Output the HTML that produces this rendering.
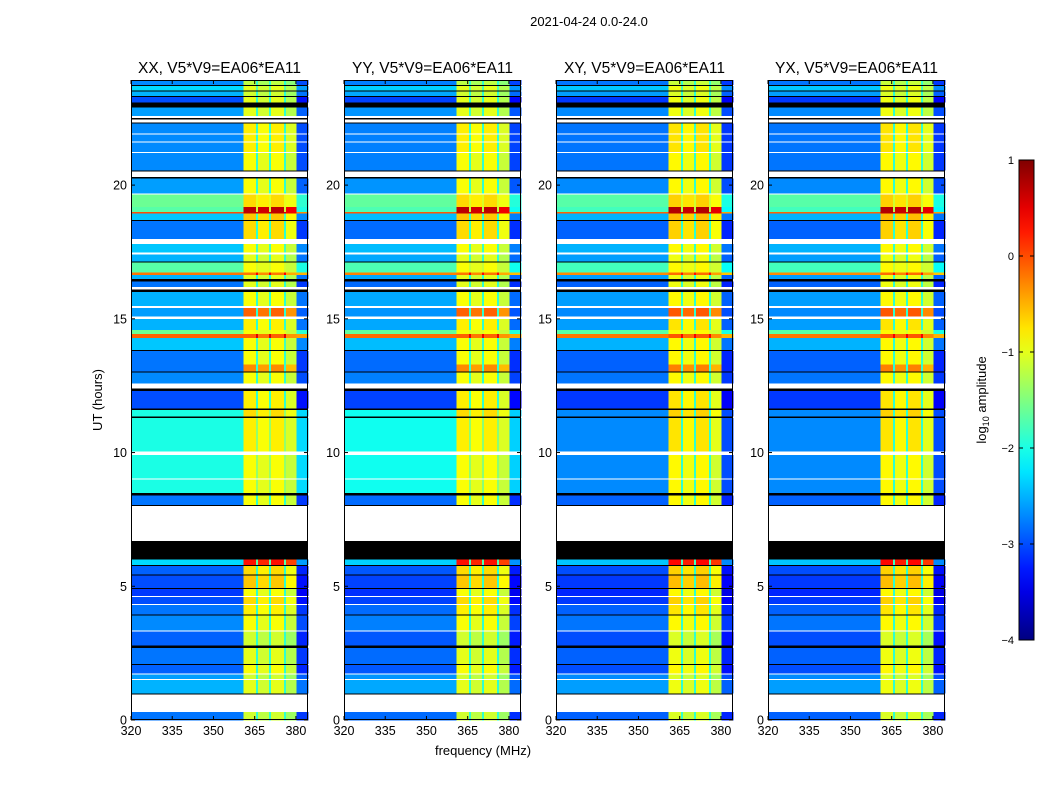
<!DOCTYPE html>
<html><head><meta charset="utf-8"><style>
body{margin:0;background:#fff;}
svg{display:block;font-family:"Liberation Sans",sans-serif;}
</style></head><body>
<svg id="fig" width="1050" height="800" viewBox="0 0 1050 800">
<text x="589" y="26" font-size="13" text-anchor="middle">2021-04-24 0.0-24.0</text>
<text x="483" y="755" font-size="13" text-anchor="middle">frequency (MHz)</text>
<text transform="translate(102,400) rotate(-90)" font-size="13" text-anchor="middle">UT (hours)</text>
<g id="panels"></g>
<g id="cbar"></g>
</svg>
<script>
const panelTitles=["XX, V5*V9=EA06*EA11","YY, V5*V9=EA06*EA11","XY, V5*V9=EA06*EA11","YX, V5*V9=EA06*EA11"];
const panelBgShift=[0,-0.05,-0.1,-0.1];
const panelCyanShift=[0,0,-0.6,-0.6];
const panelRfiShift=[0,0,0.05,0.05];
const bandStart=[0,0.3,0.95,1.0,1.5,1.55,1.7,1.75,2.05,2.1,2.7,2.8,3.3,3.35,3.9,3.95,4.3,4.35,4.6,4.65,4.9,4.95,5.4,5.45,5.75,5.8,6.0,6.7,8.0,8.05,8.4,8.5,9.0,9.05,9.9,9.97,10.05,11.3,11.35,11.6,11.65,12.3,12.4,12.6,13.0,13.05,13.3,13.8,13.85,14.3,14.45,14.6,15.0,15.1,15.4,15.5,16.0,16.1,16.2,16.4,16.5,16.65,16.75,17.1,17.15,17.4,17.5,17.8,18.0,18.65,18.7,18.95,19.0,19.2,19.65,19.7,20.25,20.3,20.5,20.55,21.2,21.25,21.6,21.65,21.9,21.95,22.3,22.35,22.45,22.5,22.6,22.9,23.1,23.3,23.35,23.5,23.55,23.7,23.75];
const bandEnd=[0.3,0.95,1.0,1.5,1.55,1.7,1.75,2.05,2.1,2.7,2.8,3.3,3.35,3.9,3.95,4.3,4.35,4.6,4.65,4.9,4.95,5.4,5.45,5.75,5.8,6.0,6.7,8.0,8.05,8.4,8.5,9.0,9.05,9.9,9.97,10.05,11.3,11.35,11.6,11.65,12.3,12.4,12.6,13.0,13.05,13.3,13.8,13.85,14.3,14.45,14.6,15.0,15.1,15.4,15.5,16.0,16.1,16.2,16.4,16.5,16.65,16.75,17.1,17.15,17.4,17.5,17.8,18.0,18.65,18.7,18.95,19.0,19.2,19.65,19.7,20.25,20.3,20.5,20.55,21.2,21.25,21.6,21.65,21.9,21.95,22.3,22.35,22.45,22.5,22.6,22.9,23.1,23.3,23.35,23.5,23.55,23.7,23.75,24];
// kind: d=data, w=white (no data), k=black (flagged)
const bandKind=["d","w","k","d","w","d","w","d","k","d","k","d","w","d","k","d","w","d","w","d","k","d","k","d","k","d","k","w","k","d","k","d","w","d","w","w","d","k","d","k","d","k","w","d","k","d","d","k","d","d","d","d","w","d","w","d","k","w","d","k","d","d","d","k","d","w","d","w","d","k","d","d","d","d","w","d","k","w","k","d","w","d","w","d","w","d","k","w","k","w","d","k","d","k","d","k","d","k","d"];
const bandBg=[-2.8,0,0,-2.5,0,-2.6,0,-2.9,0,-2.8,0,-2.9,0,-2.7,0,-2.8,0,-3.0,0,-3.1,0,-3.0,0,-2.9,0,-2.3,0,0,0,-2.8,0,-2.0,0,-2.0,0,0,-2.0,0,-2.0,0,-3.0,0,0,-2.7,0,-2.8,-2.8,0,-2.4,-0.1,-1.6,-2.5,0,-2.6,0,-2.5,0,0,-2.8,0,-2.5,-0.2,-1.7,0,-2.5,0,-2.4,0,-2.8,0,-2.4,0,-1.7,-1.6,0,-2.6,0,0,0,-2.7,0,-2.7,0,-2.7,0,-2.7,0,0,0,0,-2.6,0,-3.0,0,-2.5,0,-2.3,0,-2.7];
const bandRfi=[-1.0,0,0,-0.9,0,-1.0,0,-0.8,0,-0.9,0,-1.0,0,-0.8,0,-0.7,0,-0.6,0,-0.8,0,-0.5,0,-0.6,0,0.4,0,0,0,-0.8,0,-0.8,0,-0.8,0,0,-0.7,0,-0.6,0,-0.7,0,0,-0.8,0,-0.2,-0.8,0,-0.8,0.0,-0.8,-0.7,0,0.0,0,-0.8,0,0,-0.9,0,-0.9,-0.1,-0.8,0,-0.9,0,-0.8,0,-0.6,0,-0.5,0.8,0.8,-0.6,0,-0.8,0,0,0,-0.8,0,-0.7,0,-0.7,0,-0.7,0,0,0,0,-0.9,0,-0.9,0,-1.0,0,-0.9,0,-1.1];
// frequency segments (MHz): type b=background, r=rfi block, s=divider, t=tail
const segStart=[320,361,365.5,366.2,370.3,371,375.7,376.4,380.2];
const segEnd=[361,365.5,366.2,370.3,371,375.7,376.4,380.2,384.4];
const segType=["b","r","s","r","s","r","s","r","t"];
const segOffset=[0,-0.1,0.6,-0.2,0.6,-0.1,0.6,-0.35,-0.3];
const xTicks=[320,335,350,365,380];
const yTicks=[0,5,10,15,20];
const cbTicks=[-4,-3,-2,-1,0,1];
const panelX=[131,344,556,768];
const PW=177,PT=80,PB=720,F0=320,F1=384.4,HMAX=23.93,VMIN=-4,VMAX=1;
const NS="http://www.w3.org/2000/svg";
function xs(f,x0){return x0+(f-F0)/(F1-F0)*PW;}
function ys(h){return PB-h/HMAX*(PB-PT);}
function jet(v){let t=Math.max(0,Math.min(1,(v-VMIN)/(VMAX-VMIN)));
 const c=a=>Math.round(255*Math.max(0,Math.min(1,a)));
 return `rgb(${c(1.5-Math.abs(4*t-3))},${c(1.5-Math.abs(4*t-2))},${c(1.5-Math.abs(4*t-1))})`;}
function mk(tag,attrs,parent){const e=document.createElementNS(NS,tag);for(const k in attrs)e.setAttribute(k,attrs[k]);parent.appendChild(e);return e;}
const root=document.getElementById('panels');
panelX.forEach((x0,p)=>{
 const g=mk('g',{},root);
 
 
 const hm=mk('g',{'shape-rendering':'crispEdges'},g);
 
 
 for(let i=0;i<bandStart.length;i++){
  if(bandStart[i]>=HMAX)continue;
  const y1=ys(Math.min(bandEnd[i],HMAX)),y0=ys(bandStart[i]);
  if(bandKind[i]==='w')continue;
  if(bandKind[i]==='k'){const r=mk('rect',{x:x0,y:y1,width:PW,height:Math.max(1,y0-y1),fill:'#000'},hm);
   
   continue;}
  let bg=bandBg[i]+panelBgShift[p];
  if(bandStart[i]>=8.5&&bandEnd[i]<=11.65&&bandBg[i]>-2.2)bg+=panelCyanShift[p];
  const rf=bandRfi[i]+panelRfiShift[p];
  for(let s=0;s<segStart.length;s++){
   let v=segType[s]==='r'?rf+segOffset[s]:bg+segOffset[s];
   if(segType[s]==='s')v=Math.max(bg+0.6,-1.9);
   const a=xs(segStart[s],x0),b=xs(segEnd[s],x0);
   const r=mk('rect',{x:a,y:y1,width:b-a+0.3,height:y0-y1+0.3,fill:jet(v)},hm);
   
   
  }
 }
 const fr=mk('rect',{x:x0+0.5,y:PT+0.5,width:PW-1,height:PB-PT-1,fill:'none',stroke:'#000','stroke-width':1},g);
 
 
 const t=mk('text',{x:x0+PW/2,y:73,'font-size':15.5,'text-anchor':'middle'},g);
 t.textContent=panelTitles[p];
 
 
 xTicks.forEach(f=>{const x=xs(f,x0);
  mk('line',{x1:x,x2:x,y1:PB,y2:PB-4,stroke:'#000'},g);
  mk('line',{x1:x,x2:x,y1:PT,y2:PT+4,stroke:'#000'},g);
  const l=mk('text',{x:x,y:PB+15,'font-size':12.5,'text-anchor':'middle'},g);l.textContent=f;
  
  });
 yTicks.forEach(h=>{const y=ys(h);
  mk('line',{x1:x0,x2:x0+4,y1:y,y2:y,stroke:'#000'},g);
  mk('line',{x1:x0+PW,x2:x0+PW-4,y1:y,y2:y,stroke:'#000'},g);
  const l=mk('text',{x:x0-4,y:y+4.5,'font-size':12.5,'text-anchor':'end'},g);l.textContent=h;
  
  });
});
// colorbar
const cb=document.getElementById('cbar');


const CX=1019,CW=15,CT=160,CB=640;
const defs=mk('defs',{},cb);
const lg=mk('linearGradient',{id:'jetg',x1:0,y1:1,x2:0,y2:0},defs);
for(let i=0;i<=20;i++){mk('stop',{offset:(i/20),'stop-color':jet(VMIN+i/20*(VMAX-VMIN))},lg);}
mk('rect',{x:CX,y:CT,width:CW,height:CB-CT,fill:'url(#jetg)',stroke:'#000','stroke-width':1},cb);
cbTicks.forEach(v=>{const y=CB-(v-VMIN)/(VMAX-VMIN)*(CB-CT);
 mk('line',{x1:CX,x2:CX+4,y1:y,y2:y,stroke:'#000'},cb);
 mk('line',{x1:CX+CW,x2:CX+CW-4,y1:y,y2:y,stroke:'#000'},cb);
 const l=mk('text',{x:CX-5,y:y+4,'font-size':11,'text-anchor':'end'},cb);
 l.textContent=v<0?'\u2212'+(-v):String(v);
 
 });
const cl=mk('text',{transform:'translate(986,400) rotate(-90)','font-size':13,'text-anchor':'middle'},cb);
cl.innerHTML='log<tspan font-size="9" dy="3">10</tspan><tspan dy="-3"> amplitude</tspan>';


</script>
</body></html>
